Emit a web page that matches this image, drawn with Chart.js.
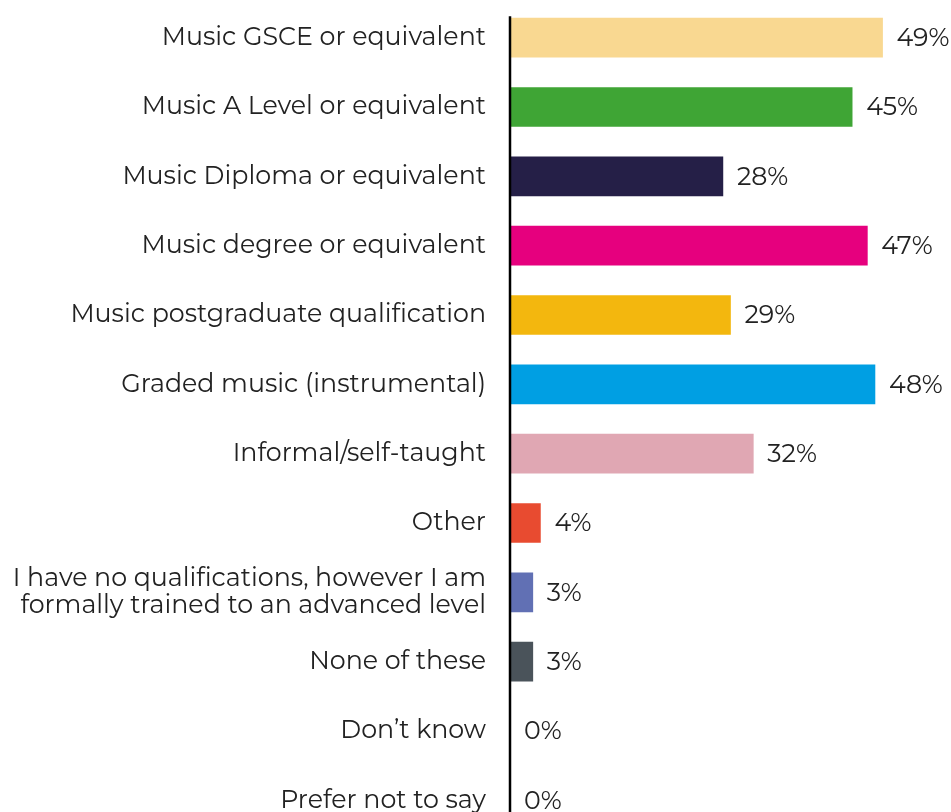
<!DOCTYPE html>
<html>
<head>
<meta charset="utf-8">
<script src="https://cdn.jsdelivr.net/npm/chart.js@4.4.0/dist/chart.umd.min.js"></script>
<style>
  html, body { margin: 0; padding: 0; background: #fff; overflow: hidden; }
  canvas { display: block; }
</style>
</head>
<body>
<canvas id="main-chart" width="951" height="835"></canvas>
<script>
// categories and values
var categories = [
	'Music GSCE or equivalent',
	'Music A Level or equivalent',
	'Music Diploma or equivalent',
	'Music degree or equivalent',
	'Music postgraduate qualification',
	'Graded music (instrumental)',
	'Informal/self-taught',
	'Other',
	['I have no qualifications, however I am', 'formally trained to an advanced level'],
	'None of these',
	'Don\u2019t know',
	'Prefer not to say'
];
var percents = [49, 45, 28, 47, 29, 48, 32, 4, 3, 3, 0, 0];
var barColours = ['#F9D891', '#3FA535', '#251F47', '#E6007E', '#F3B70E', '#009FE3',
	'#E0A7B3', '#E84B30', '#6170B4', '#4A535A', '#888888', '#888888'];

var fontFamily = 'Montserrat, "Open Sans", "Noto Sans", sans-serif';

// axis line + value labels
var extras = {
	id: 'extras',
	afterDatasetsDraw: function(chart) {
		var ctx = chart.ctx;
		var meta = chart.getDatasetMeta(0);
		var x0 = chart.chartArea.left;
		var first = meta.data[0];
		ctx.save();
		ctx.strokeStyle = '#000';
		ctx.lineWidth = 2.5;
		ctx.beginPath();
		ctx.moveTo(x0, first.y - first.height / 2 - 2);
		ctx.lineTo(x0, chart.height);
		ctx.stroke();

		ctx.fillStyle = '#222';
		ctx.font = '25.3px ' + fontFamily;
		ctx.textBaseline = 'middle';
		ctx.textAlign = 'left';
		meta.data.forEach(function(bar, i) {
			ctx.fillText(percents[i] + '%', bar.x + 14, bar.y + 1);
		});
		ctx.restore();
	}
};

var ctx = document.getElementById('main-chart');
new Chart(ctx, {
	type: 'bar',
	data: {
		labels: categories,
		datasets: [{
			data: percents,
			backgroundColor: barColours,
			barThickness: 39
		}]
	},
	options: {
		indexAxis: 'y',
		responsive: false,
		animation: false,
		layout: { padding: { top: 3, right: 0, bottom: 0, left: 0 } },
		plugins: {
			legend: { display: false },
			tooltip: { enabled: false }
		},
		scales: {
			x: {
				display: false,
				min: 0,
				max: 58
			},
			y: {
				grid: { display: false, drawTicks: false },
				border: { display: false },
				ticks: {
					padding: 24,
					color: '#222',
					font: { family: fontFamily, size: 25.3, lineHeight: 1.05 }
				},
				afterFit: function(scale) {
					scale.width = 510;
					scale.paddingTop = 0;
					scale.paddingBottom = 0;
				}
			}
		}
	},
	plugins: [extras]
});
</script>
</body>
</html>
